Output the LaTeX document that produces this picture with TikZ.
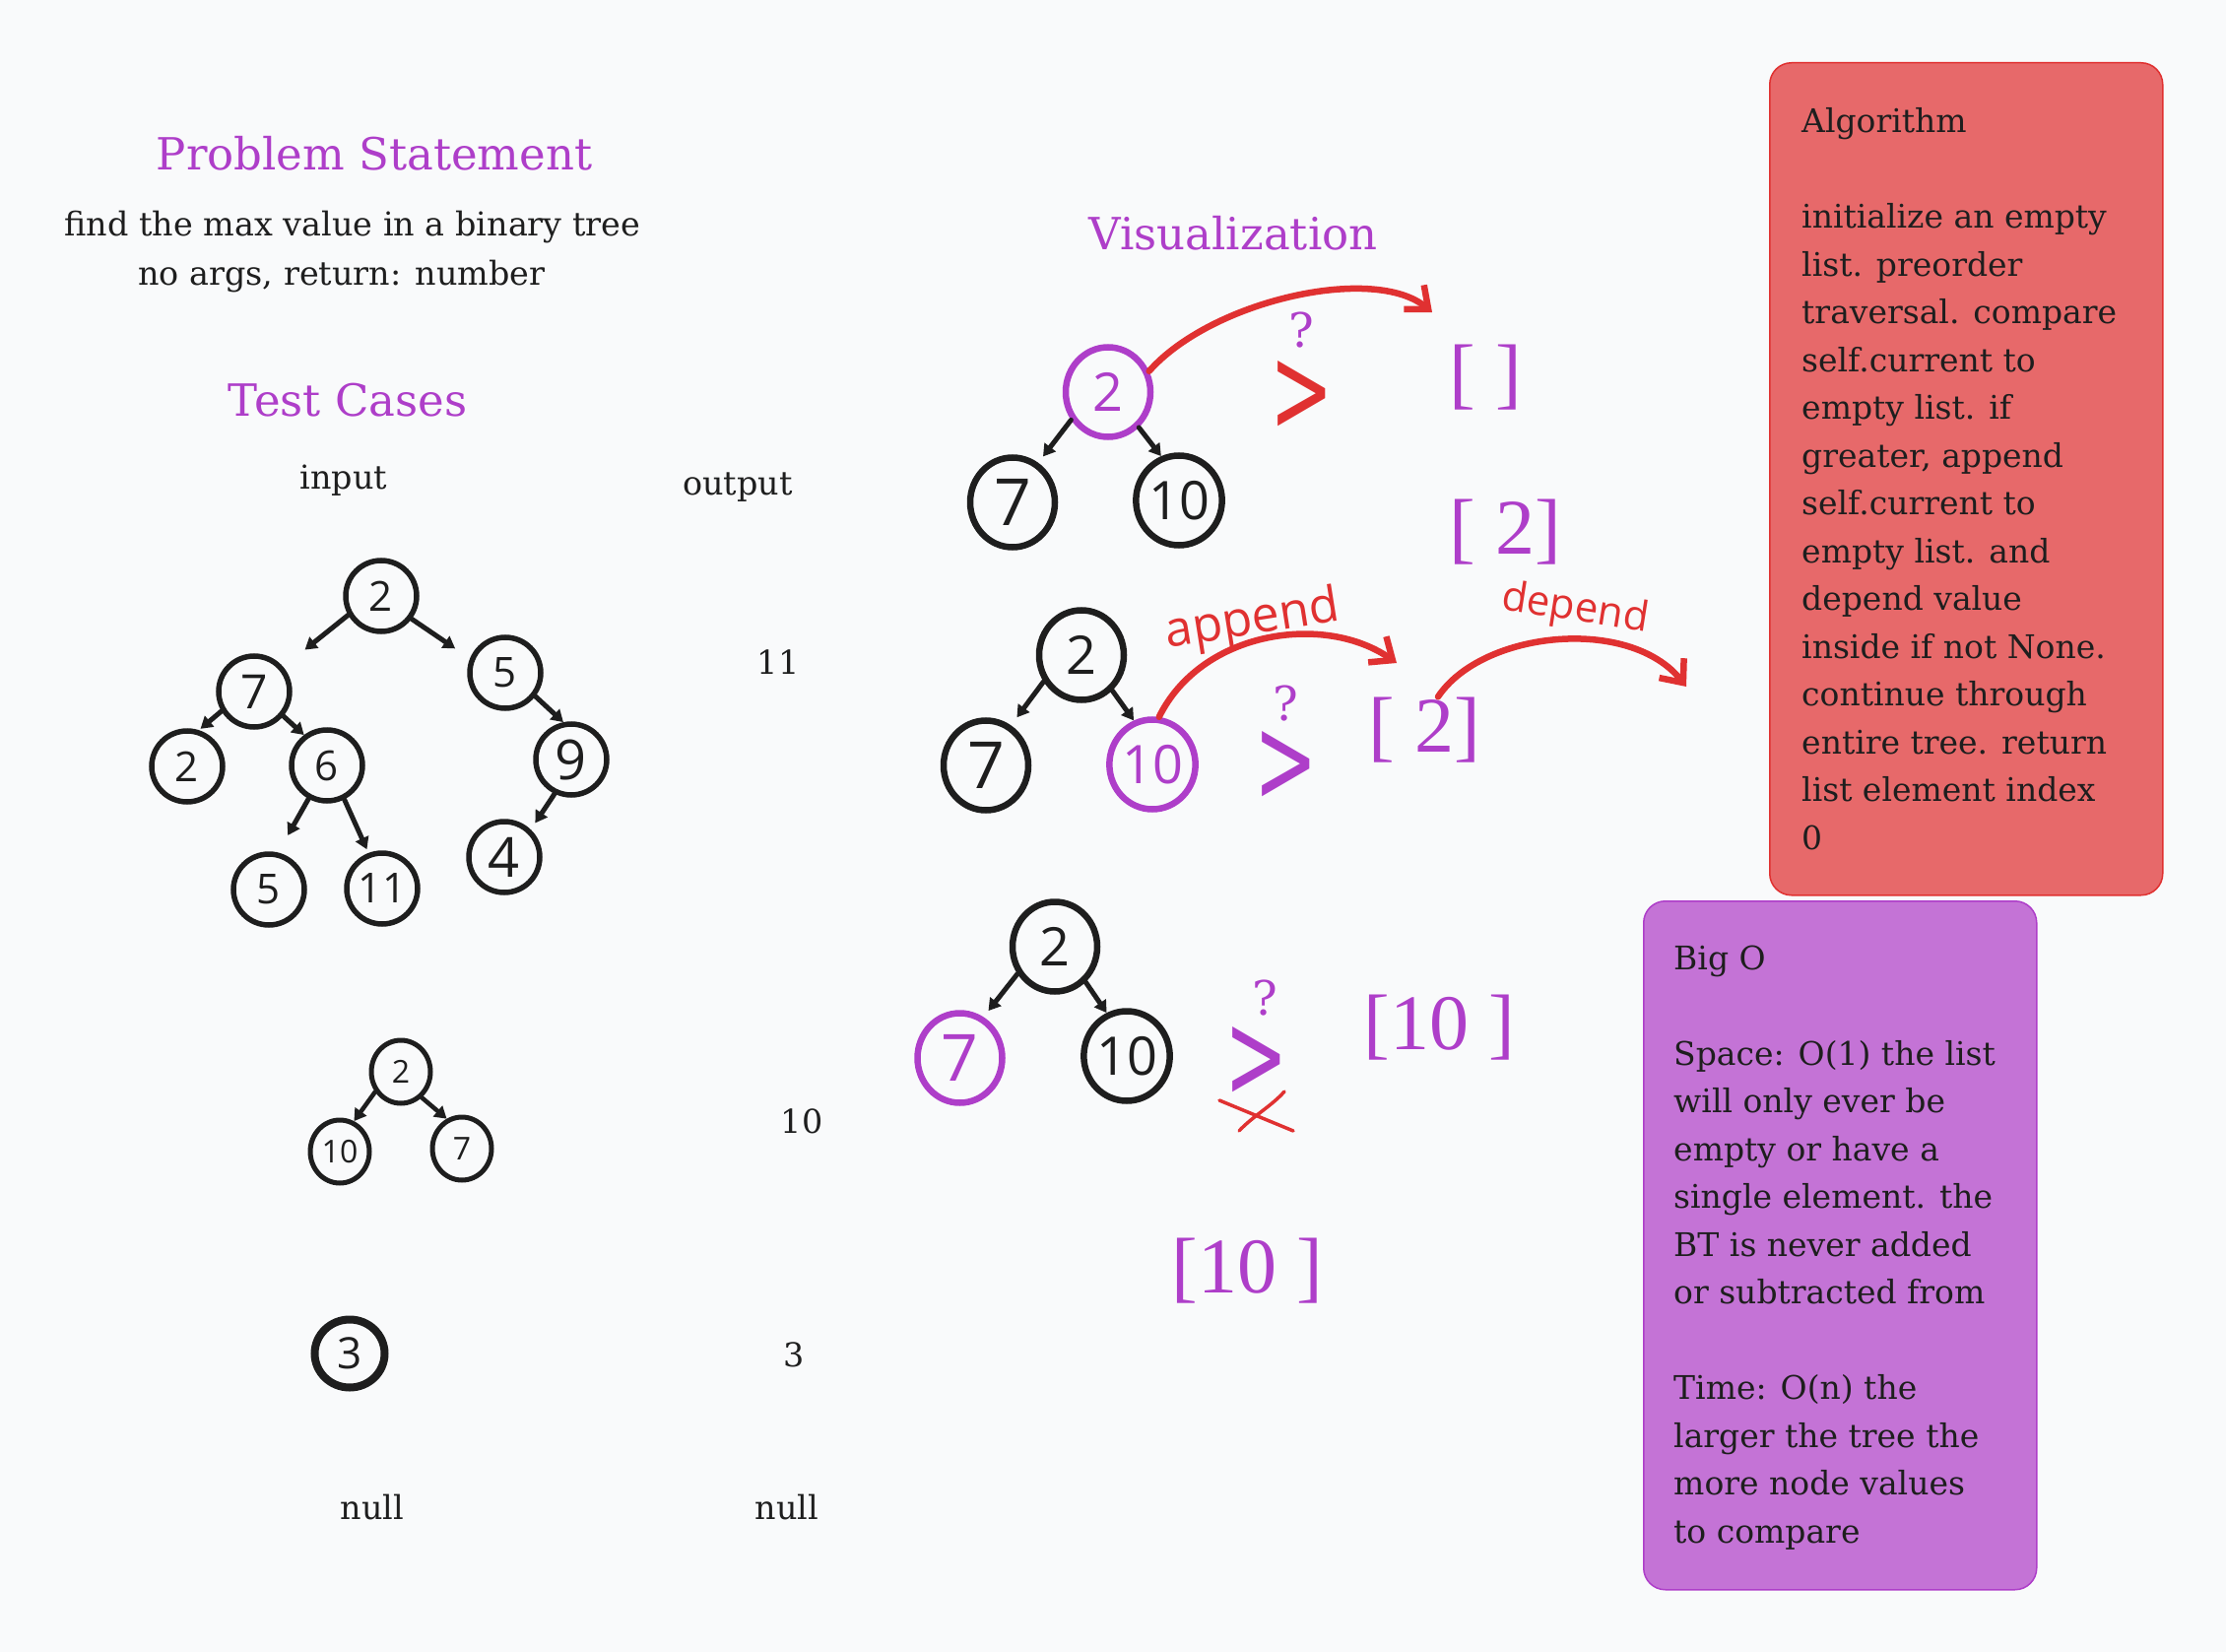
\documentclass[tikz,border=0pt]{standalone}
\usepackage{fontspec}
\usepackage{graphicx}
\setmainfont{DejaVu Serif}
\newfontfamily\handfont{Open Sans}
\newfontfamily\brkfont{Liberation Serif}
\newfontfamily\gtfont{DejaVu Sans}
\usetikzlibrary{arrows.meta,shapes.geometric}
\newcommand{\setfs}[1]{\fontsize{#1}{#1}\selectfont}
\definecolor{ink}{HTML}{1E1E1E}
\definecolor{grape}{HTML}{AE3EC9}
\definecolor{redink}{HTML}{E03131}
\definecolor{bg}{HTML}{F9FAFB}
\definecolor{redfill}{HTML}{E7696A}
\definecolor{purplefill}{HTML}{C473D6}
\begin{document}
\begin{tikzpicture}[x=1pt,y=-1pt,
  title/.style={font=\setfs{45}, text=grape, anchor=base, inner sep=0pt},
  body/.style={font=\setfs{33.4}, text=ink, anchor=base, inner sep=0pt},
  tnode/.style={circle, draw=ink, line width=5.5pt, minimum size=72pt, inner sep=0pt, text=ink, font=\handfont\setfs{42}},
  snode/.style={ellipse, draw=ink, line width=5pt, minimum width=60pt, minimum height=64pt, inner sep=0pt, text=ink, font=\handfont\setfs{32}},
  vnode/.style={ellipse, draw=ink, line width=6.5pt, minimum width=86pt, minimum height=91pt, inner sep=0pt, text=ink, font=\handfont\setfs{54}},
  hot/.style={draw=grape, text=grape},
  tarrow/.style={draw=ink, line width=5pt, line cap=round, -{Triangle[length=12pt,width=14pt]}},
  redarc/.style={draw=redink, line width=6.5pt, line cap=round, line join=round, -{Straight Barb[length=19pt,width=32pt]}},
  qmark/.style={font=\setfs{48}, text=grape, anchor=base, inner sep=0pt},
  gtsym/.style={font=\gtfont\setfs{124}, inner sep=0pt},
  listtxt/.style={font=\brkfont\setfs{80}, text=grape, anchor=base, inner sep=0pt},
  handlbl/.style={font=\handfont\setfs{50}, text=redink, inner sep=0pt},
  boxtxt/.style={anchor=base west, inner sep=0pt, text=ink},
  xpen/.style={draw=redink, line width=3.5pt, line cap=round}
]
\fill[bg] (0,0) rectangle (2260,1677);
\useasboundingbox (0,0) rectangle (2260,1677);

% ---------- left column texts ----------
\node[title] (ps) at (380,173) {Problem Statement};
\node[body] (d1) at (358,240) {find the max value in a binary tree};
\node[body] (d2) at (347,290) {no args, return: number};
\node[title] (tc) at (353,423) {Test Cases};
\node[body] (inl) at (349,496) {input};
\node[body] (outl) at (749,502) {output};
\node[body] (o11) at (790,684) {11};
\node[body] (o10) at (814,1150) {10};
\node[body] (o3) at (806,1387) {3};
\node[body] (nl) at (378,1542) {null};
\node[body] (nr) at (799,1542) {null};
\node[title] (viz) at (1252,254) {Visualization};

% ---------- input tree ----------
\node[tnode] (r1) at (387,605) {2};
\node[tnode, font=\handfont\setfs{48}] (n7) at (258,702) {7};
\node[tnode] (n5) at (513,683) {5};
\node[tnode] (l2) at (190,778) {2};
\node[tnode] (n6) at (332,777) {6};
\node[tnode, font=\handfont\setfs{56}] (n9) at (580,771) {9};
\node[tnode] (l5) at (273,903) {5};
\node[tnode] (l11) at (388,902) {11};
\node[tnode, font=\handfont\setfs{56}] (l4) at (512,870) {4};
\draw[tarrow, shorten >=28pt] (r1.210) -- (n7.40);
\draw[tarrow, shorten >=18pt] (r1.-37) -- (n5.158);
\draw[tarrow, shorten >=2pt] (n7.211) -- (l2.72);
\draw[tarrow] (n7.-40) -- (n6.127);
\draw[tarrow, shorten >=20pt] (n6.241) -- (l5.76);
\draw[tarrow, shorten >=4pt] (n6.-63) -- (l11.111);
\draw[tarrow] (n5.-38) -- (n9.102);
\draw[tarrow, shorten >=8pt] (n9.244) -- (l4.46);

% ---------- second test tree ----------
\node[snode] (t2r) at (407,1088) {2};
\node[snode] (t2a) at (345,1169) {10};
\node[snode] (t2b) at (469,1166) {7};
\draw[tarrow, line width=4.5pt] (t2r.218) -- (t2a.65);
\draw[tarrow, line width=4.5pt] (t2r.-51) -- (t2b.117);
\node[snode, minimum width=71pt, minimum height=69pt, line width=8pt, font=\handfont\setfs{44}] (t3) at (355,1374) {3};

% ---------- visualization tree A ----------
\node[vnode, hot] (rA) at (1125,398) {2};
\node[vnode, font=\handfont\setfs{66}] (a7) at (1028,510) {7};
\node[vnode] (a10) at (1197,508) {10};
\draw[tarrow, shorten >=8pt] (rA.217) -- (a7.57);
\draw[tarrow] (rA.-49) -- (a10.112);

% ---------- visualization tree B ----------
\node[vnode] (rB) at (1098,665) {2};
\node[vnode, font=\handfont\setfs{66}] (b7) at (1001,777) {7};
\node[vnode, hot] (b10) at (1170,776) {10};
\draw[tarrow, shorten >=10pt] (rB.215) -- (b7.58);
\draw[tarrow] (rB.-49) -- (b10.113);

% ---------- visualization tree C ----------
\node[vnode] (rC) at (1071,961) {2};
\node[vnode, hot, font=\handfont\setfs{66}] (c7) at (974.5,1074) {7};
\node[vnode] (c10) at (1144,1072) {10};
\draw[tarrow, shorten >=8pt] (rC.216) -- (c7.60);
\draw[tarrow] (rC.-49) -- (c10.115);

% ---------- comparisons ----------
\node[gtsym, text=redink] (gtA) at (1322,402) {\scalebox{0.62}[1]{>}};
\node[gtsym, text=grape] (gtB) at (1306,778) {\scalebox{0.62}[1]{>}};
\node[gtsym, text=grape] (gtC) at (1276,1078) {\scalebox{0.62}[1]{>}};
\node[qmark] (qA) at (1321,353) {?};
\node[qmark] (qB) at (1305,731) {?};
\node[qmark] (qC) at (1284,1030) {?};

\node[listtxt] (brA0) at (1508,406) {[ ]};
\node[listtxt] (brA1) at (1528,562) {[ 2]};
\node[listtxt] (brB) at (1446,763) {[ 2]};
\node[listtxt] (brC) at (1461,1065) {[10 ]};
\node[listtxt] (brD) at (1266,1312) {[10 ]};

% ---------- red arcs ----------
\coordinate (tipA) at (1454,317);
\coordinate (tipB) at (1418,673);
\coordinate (tipC) at (1712,697);
\draw[redarc] (rA.27) .. controls (1230,305) and (1395,268) .. (tipA);
\draw[redarc] (b10.82) .. controls (1220,640) and (1345,622) .. (tipB);
\draw[redarc] ([xshift=14pt]brB.north) .. controls (1505,640) and (1655,625) .. (tipC);
\node[handlbl, rotate=9] (app) at (1272,631) {append};
\node[handlbl, font=\handfont\setfs{42}, rotate=-9] (dep) at (1599,619) {depend};

% ---------- red cross ----------
\draw[xpen] (1238,1117) -- (1313,1148);
\draw[xpen] (1258,1148) .. controls (1272,1133) and (1292,1122) .. (1304,1108);

% ---------- boxes ----------
\node[draw=redink, fill=redfill, line width=1.5pt, rounded corners=22pt, minimum width=399pt, minimum height=845pt, inner sep=0pt, anchor=north west] (algbox) at (1796,63) {};
\node[boxtxt] (algtxt) at (1829,135) {\parbox[t]{400pt}{\fontsize{33}{48.5}\selectfont\raggedright
Algorithm\\[48.5pt]
initialize an empty\\
list. preorder\\
traversal. compare\\
self.current to\\
empty list. if\\
greater, append\\
self.current to\\
empty list. and\\
depend value\\
inside if not None.\\
continue through\\
entire tree. return\\
list element index\\
0}};

\node[draw=grape, fill=purplefill, line width=1.5pt, rounded corners=22pt, minimum width=399pt, minimum height=699pt, inner sep=0pt, anchor=north west] (bigobox) at (1668,914) {};
\node[boxtxt] (bigotxt) at (1699,984) {\parbox[t]{400pt}{\fontsize{33}{48.5}\selectfont\raggedright
Big O\\[48.5pt]
Space: O(1) the list\\
will only ever be\\
empty or have a\\
single element. the\\
BT is never added\\
or subtracted from\\[48.5pt]
Time: O(n) the\\
larger the tree the\\
more node values\\
to compare}};
\end{tikzpicture}
\end{document}
